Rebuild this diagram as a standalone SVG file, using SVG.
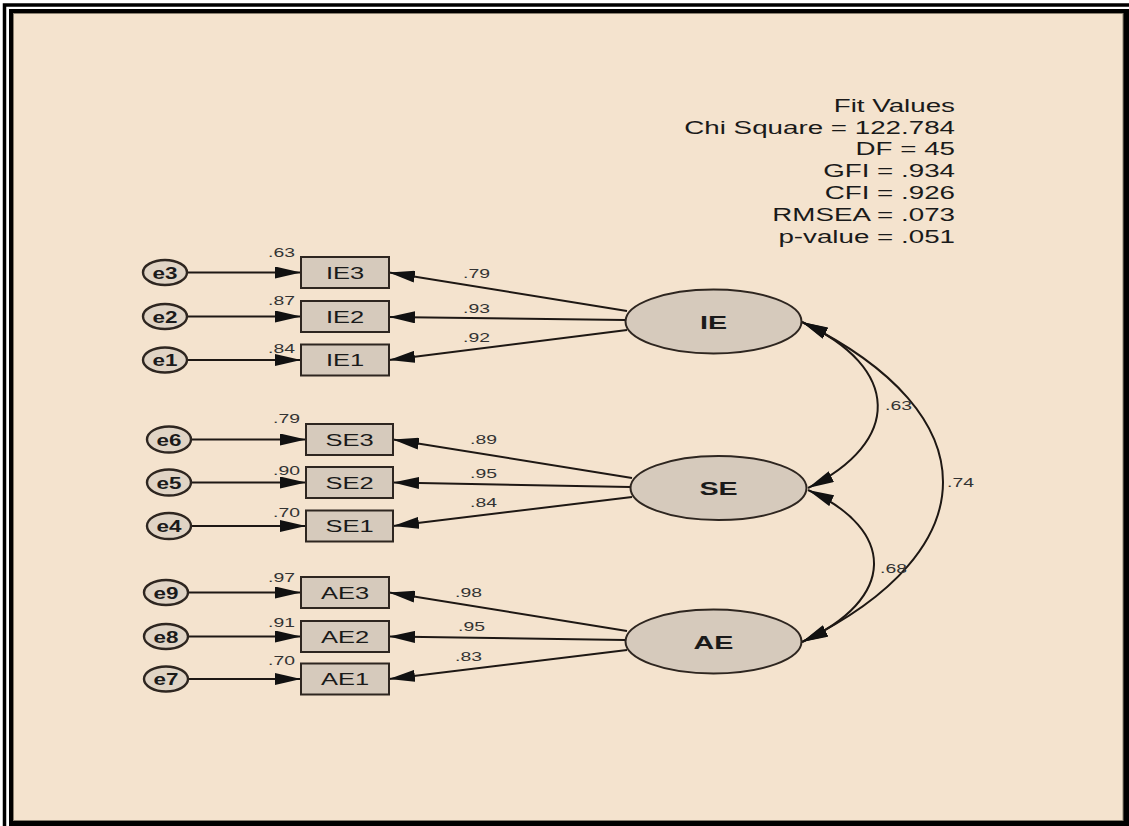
<svg xmlns="http://www.w3.org/2000/svg" width="1129" height="826" viewBox="0 0 1129 826">
<defs>
<style>
.lnk{stroke:#1e1814;stroke-width:2;fill:none}
.box{fill:#d6cabc;stroke:#2e2620;stroke-width:2}
.lat{fill:#d6cabc;stroke:#2e2620;stroke-width:2}
.err{fill:#e0d4c5;stroke:#2e2620;stroke-width:2.4}
text{font-family:"Liberation Sans",Arial,sans-serif;fill:#1a1a1a}
.bl{font-size:17px;text-anchor:middle}
.el{font-size:16px;font-weight:bold;text-anchor:middle}
.ll{font-size:18.5px;font-weight:bold;text-anchor:middle}
.num{font-size:12.5px;fill:#333}
.fit{font-size:18.5px;text-anchor:end}
</style>
<marker id="ah" viewBox="0 0 26 12" refX="26" refY="6" markerWidth="26" markerHeight="12" markerUnits="userSpaceOnUse" orient="auto-start-reverse"><path d="M0,0 L26,6 L0,12 z" fill="#111"/></marker>
</defs>
<rect x="0" y="0" width="1129" height="826" fill="#ffffff"/>
<path d="M4.5,826 V5 H1129" stroke="#000" stroke-width="3.5" fill="none"/>
<rect x="9" y="9" width="1120" height="817" fill="#000"/>
<rect x="13.5" y="13.5" width="1109.5" height="807" fill="#f4e3ce" stroke="#8a8070" stroke-width="1"/>

<g id="fit-values">
<text class="fit" transform="translate(955,111.5) scale(1.5,1)">Fit Values</text>
<text class="fit" transform="translate(955,133.5) scale(1.5,1)">Chi Square = 122.784</text>
<text class="fit" transform="translate(955,155) scale(1.5,1)">DF = 45</text>
<text class="fit" transform="translate(955,177) scale(1.5,1)">GFI = .934</text>
<text class="fit" transform="translate(955,199) scale(1.5,1)">CFI = .926</text>
<text class="fit" transform="translate(955,221) scale(1.5,1)">RMSEA = .073</text>
<text class="fit" transform="translate(955,243) scale(1.5,1)">p-value = .051</text>
</g>

<g id="connectors">
<line class="lnk" x1="188" y1="272.5" x2="301" y2="272.5" marker-end="url(#ah)"/>
<line class="lnk" x1="188" y1="316.5" x2="301" y2="316.5" marker-end="url(#ah)"/>
<line class="lnk" x1="188" y1="360" x2="301" y2="360" marker-end="url(#ah)"/>
<line class="lnk" x1="191" y1="439.5" x2="306" y2="439.5" marker-end="url(#ah)"/>
<line class="lnk" x1="191" y1="482.5" x2="306" y2="482.5" marker-end="url(#ah)"/>
<line class="lnk" x1="191" y1="526" x2="306" y2="526" marker-end="url(#ah)"/>
<line class="lnk" x1="188" y1="592.5" x2="301" y2="592.5" marker-end="url(#ah)"/>
<line class="lnk" x1="188" y1="636.5" x2="301" y2="636.5" marker-end="url(#ah)"/>
<line class="lnk" x1="188" y1="679" x2="301" y2="679" marker-end="url(#ah)"/>

<line class="lnk" x1="627" y1="311" x2="389" y2="272.5" marker-end="url(#ah)"/>
<line class="lnk" x1="625" y1="320" x2="389" y2="317" marker-end="url(#ah)"/>
<line class="lnk" x1="627" y1="330" x2="389" y2="360" marker-end="url(#ah)"/>
<line class="lnk" x1="632" y1="478" x2="393" y2="439.5" marker-end="url(#ah)"/>
<line class="lnk" x1="630" y1="487" x2="393" y2="482.5" marker-end="url(#ah)"/>
<line class="lnk" x1="632" y1="497" x2="393" y2="526" marker-end="url(#ah)"/>
<line class="lnk" x1="627" y1="631" x2="389" y2="592.5" marker-end="url(#ah)"/>
<line class="lnk" x1="625" y1="640" x2="389" y2="636.5" marker-end="url(#ah)"/>
<line class="lnk" x1="627" y1="650" x2="389" y2="679" marker-end="url(#ah)"/>

<path class="lnk" d="M802,322 C902,368 902,442 808,488" marker-start="url(#ah)" marker-end="url(#ah)"/>
<path class="lnk" d="M808,490 C897,530 897,599 802,642" marker-start="url(#ah)" marker-end="url(#ah)"/>
<path class="lnk" d="M802,322 C990,414 990,550 802,642" marker-start="url(#ah)" marker-end="url(#ah)"/>

<text class="num" transform="translate(463,278) scale(1.55,1)">.79</text>
<text class="num" transform="translate(463,313) scale(1.55,1)">.93</text>
<text class="num" transform="translate(463,342) scale(1.55,1)">.92</text>
<text class="num" transform="translate(470,444) scale(1.55,1)">.89</text>
<text class="num" transform="translate(470,478) scale(1.55,1)">.95</text>
<text class="num" transform="translate(470,507) scale(1.55,1)">.84</text>
<text class="num" transform="translate(455,597) scale(1.55,1)">.98</text>
<text class="num" transform="translate(458,631) scale(1.55,1)">.95</text>
<text class="num" transform="translate(455,661) scale(1.55,1)">.83</text>
<text class="num" transform="translate(885,410) scale(1.55,1)">.63</text>
<text class="num" transform="translate(880,573) scale(1.55,1)">.68</text>
<text class="num" transform="translate(947,487) scale(1.55,1)">.74</text>
</g>

<g id="e3"><ellipse class="err" cx="165" cy="272.5" rx="22" ry="12.5"/><text class="el" transform="translate(165,278.5) scale(1.4,1)">e3</text></g>
<g id="e2"><ellipse class="err" cx="165" cy="316.5" rx="22" ry="12.5"/><text class="el" transform="translate(165,322.5) scale(1.4,1)">e2</text></g>
<g id="e1"><ellipse class="err" cx="165" cy="360" rx="22" ry="12.5"/><text class="el" transform="translate(165,366) scale(1.4,1)">e1</text></g>
<g id="e6"><ellipse class="err" cx="169" cy="439.5" rx="22" ry="13"/><text class="el" transform="translate(169,445.5) scale(1.4,1)">e6</text></g>
<g id="e5"><ellipse class="err" cx="169" cy="482.5" rx="22" ry="13"/><text class="el" transform="translate(169,488.5) scale(1.4,1)">e5</text></g>
<g id="e4"><ellipse class="err" cx="169" cy="526" rx="22" ry="13"/><text class="el" transform="translate(169,532) scale(1.4,1)">e4</text></g>
<g id="e9"><ellipse class="err" cx="166" cy="592.5" rx="22" ry="12.5"/><text class="el" transform="translate(166,598.5) scale(1.4,1)">e9</text></g>
<g id="e8"><ellipse class="err" cx="166" cy="636.5" rx="22" ry="12.5"/><text class="el" transform="translate(166,642.5) scale(1.4,1)">e8</text></g>
<g id="e7"><ellipse class="err" cx="166" cy="679" rx="22" ry="12.5"/><text class="el" transform="translate(166,685) scale(1.4,1)">e7</text></g>

<g id="IE3"><rect class="box" x="301" y="257" width="88" height="31"/><text class="bl" transform="translate(345,278.5) scale(1.5,1)">IE3</text><text class="num" transform="translate(268,257) scale(1.55,1)">.63</text></g>
<g id="IE2"><rect class="box" x="301" y="301" width="88" height="31"/><text class="bl" transform="translate(345,322.5) scale(1.5,1)">IE2</text><text class="num" transform="translate(268,305) scale(1.55,1)">.87</text></g>
<g id="IE1"><rect class="box" x="301" y="344.5" width="88" height="31"/><text class="bl" transform="translate(345,366) scale(1.5,1)">IE1</text><text class="num" transform="translate(268,353) scale(1.55,1)">.84</text></g>
<g id="SE3"><rect class="box" x="306" y="424" width="87" height="31"/><text class="bl" transform="translate(349.5,445.5) scale(1.5,1)">SE3</text><text class="num" transform="translate(273,423) scale(1.55,1)">.79</text></g>
<g id="SE2"><rect class="box" x="306" y="467" width="87" height="31"/><text class="bl" transform="translate(349.5,488.5) scale(1.5,1)">SE2</text><text class="num" transform="translate(273,475) scale(1.55,1)">.90</text></g>
<g id="SE1"><rect class="box" x="306" y="510.5" width="87" height="31"/><text class="bl" transform="translate(349.5,532) scale(1.5,1)">SE1</text><text class="num" transform="translate(273,517) scale(1.55,1)">.70</text></g>
<g id="AE3"><rect class="box" x="301" y="577" width="88" height="31"/><text class="bl" transform="translate(345,598.5) scale(1.5,1)">AE3</text><text class="num" transform="translate(268,582) scale(1.55,1)">.97</text></g>
<g id="AE2"><rect class="box" x="301" y="621" width="88" height="31"/><text class="bl" transform="translate(345,642.5) scale(1.5,1)">AE2</text><text class="num" transform="translate(268,627) scale(1.55,1)">.91</text></g>
<g id="AE1"><rect class="box" x="301" y="663.5" width="88" height="31"/><text class="bl" transform="translate(345,685) scale(1.5,1)">AE1</text><text class="num" transform="translate(268,665) scale(1.55,1)">.70</text></g>

<g id="IE"><ellipse class="lat" cx="713.5" cy="321.5" rx="88" ry="32"/><text class="ll" transform="translate(713.5,328.5) scale(1.55,1)">IE</text></g>
<g id="SE"><ellipse class="lat" cx="718.5" cy="488" rx="88" ry="32"/><text class="ll" transform="translate(718.5,495) scale(1.55,1)">SE</text></g>
<g id="AE"><ellipse class="lat" cx="713.5" cy="641.5" rx="88" ry="32"/><text class="ll" transform="translate(713.5,648.5) scale(1.55,1)">AE</text></g>
</svg>
